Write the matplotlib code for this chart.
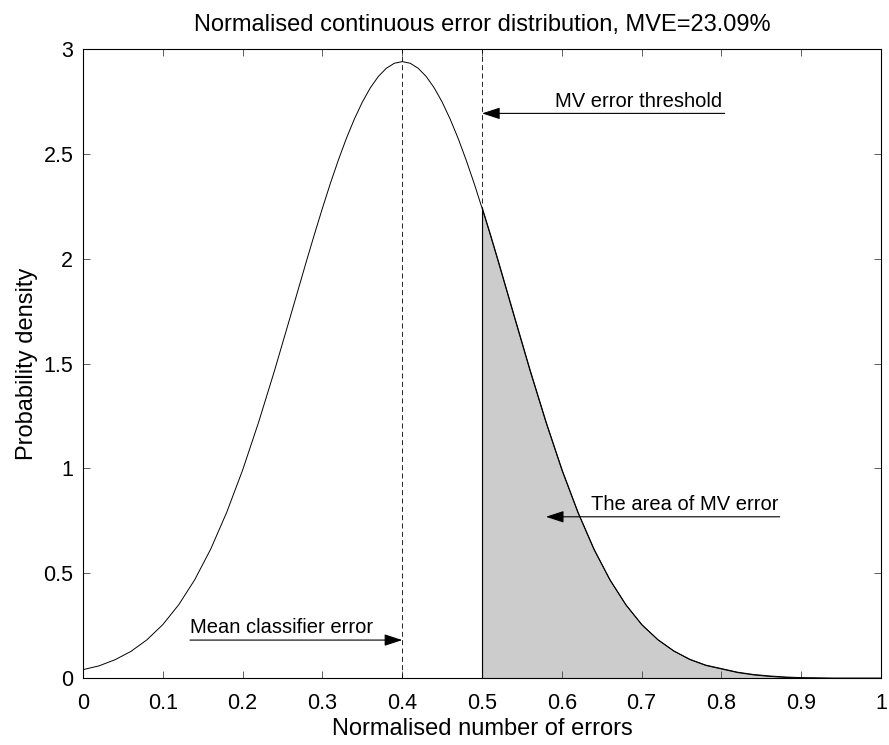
import numpy as np
import matplotlib
matplotlib.use('Agg')
import matplotlib.pyplot as plt

plt.rcParams['font.family'] = ['Liberation Sans', 'DejaVu Sans']

# values
err = [0.00, 0.02, 0.04, 0.06, 0.08, 0.10, 0.12, 0.14, 0.16, 0.18,
       0.20, 0.22, 0.24, 0.26, 0.28, 0.29, 0.30, 0.31, 0.32, 0.33,
       0.34, 0.35, 0.36, 0.37, 0.38, 0.39, 0.40, 0.41, 0.42, 0.43,
       0.44, 0.45, 0.46, 0.47, 0.48, 0.49, 0.50, 0.51, 0.52, 0.54,
       0.56, 0.58, 0.60, 0.62, 0.64, 0.66, 0.68, 0.70, 0.72, 0.74,
       0.76, 0.78, 0.80, 0.82, 0.84, 0.86, 0.88, 0.90, 0.92, 0.94,
       0.96, 0.98, 1.00]
dens = [0.040, 0.058, 0.087, 0.127, 0.182, 0.255, 0.350, 0.469, 0.615, 0.790,
        0.992, 1.220, 1.467, 1.727, 1.989, 2.117, 2.241, 2.360, 2.471, 2.574,
        2.666, 2.747, 2.815, 2.869, 2.908, 2.932, 2.940, 2.932, 2.908, 2.869,
        2.815, 2.747, 2.666, 2.574, 2.471, 2.360, 2.241, 2.117, 1.989, 1.727,
        1.467, 1.220, 0.992, 0.790, 0.615, 0.469, 0.350, 0.255, 0.184, 0.130,
        0.090, 0.062, 0.045, 0.028, 0.017, 0.010, 0.005, 0.002, 0.001, 0.0,
        0.0, 0.0, 0.0]

mean_err = 0.4
mv_thresh = 0.5
mve = 23.09

err = np.array(err)
dens = np.array(dens)

fig = plt.figure(figsize=(8.89, 7.45), dpi=100)
ax = fig.add_axes([0.0934, 0.0899, 0.8977, 0.8443])

# shaded MV error area
tail = err >= mv_thresh
ax.fill_between(err[tail], 0, dens[tail], facecolor='#cccccc', edgecolor='k', lw=0.7)
ax.plot([mv_thresh, mv_thresh], [0, dens[tail][0]], color='k', lw=0.8)
ax.plot(err, dens, color='k', lw=0.7)

ax.axvline(mean_err, color='k', ls=(0, (6, 4)), lw=0.6)
ax.axvline(mv_thresh, color='k', ls=(0, (6, 4)), lw=0.6)

arrow = dict(arrowstyle='-|>,head_length=0.55,head_width=0.18', color='k',
             lw=0.8, mutation_scale=20, shrinkA=0, shrinkB=0)
ax.annotate('', xy=(mv_thresh, 2.693), xytext=(0.804, 2.693), arrowprops=arrow)
ax.text(0.801, 2.723, 'MV error threshold', ha='right', va='baseline', fontsize=14.5)

ax.annotate('', xy=(0.580, 0.769), xytext=(0.873, 0.769), arrowprops=arrow)
ax.text(0.872, 0.801, 'The area of MV error', ha='right', va='baseline', fontsize=14.5)

ax.annotate('', xy=(mean_err, 0.181), xytext=(0.134, 0.181), arrowprops=arrow)
ax.text(0.134, 0.213, 'Mean classifier error', ha='left', va='baseline', fontsize=14.5)

ax.set_xlim(0, 1)
ax.set_ylim(0, 3)
ax.set_xticks(np.arange(0, 1.01, 0.1))
ax.set_xticklabels(['0', '0.1', '0.2', '0.3', '0.4', '0.5', '0.6', '0.7', '0.8', '0.9', '1'])
ax.set_yticks(np.arange(0, 3.01, 0.5))
ax.set_yticklabels(['0', '0.5', '1', '1.5', '2', '2.5', '3'])
ax.tick_params(direction='in', top=True, right=True, length=5, width=0.6,
               labelsize=15.5, color='#444444')
ax.tick_params(axis='x', pad=11)
ax.tick_params(axis='y', pad=7)
for s in ax.spines.values():
    s.set_linewidth(0.8)

ax.set_title('Normalised continuous error distribution, MVE=%.2f%%' % mve, fontsize=17, pad=13)
ax.set_xlabel('Normalised number of errors', fontsize=17, labelpad=3)
ax.set_ylabel('Probability density', fontsize=17, labelpad=4)

fig.savefig('out.png', dpi=100)
